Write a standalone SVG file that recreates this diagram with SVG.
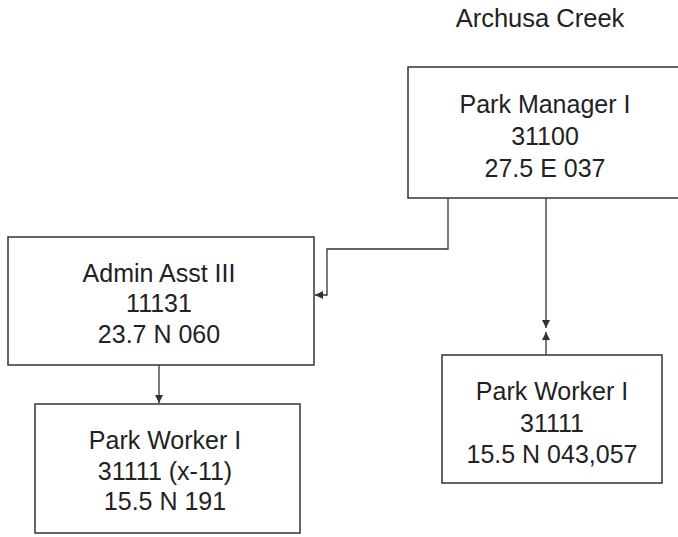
<svg xmlns="http://www.w3.org/2000/svg" width="678" height="537" viewBox="0 0 678 537">
<style>
.box{fill:#fff;stroke:#333;stroke-width:1.5}
.t{font-family:"Liberation Sans",Arial,sans-serif;font-size:25px;fill:#222;text-anchor:middle}
.c{fill:none;stroke:#333;stroke-width:1.3}
</style>
<defs>
<marker id="ah" viewBox="0 0 10 10" refX="10" refY="5" markerWidth="8" markerHeight="8" orient="auto" markerUnits="userSpaceOnUse">
<path d="M0,0 L10,5 L0,10 z" fill="#333"/>
</marker>
</defs>
<rect width="678" height="537" fill="#fff"/>
<text class="t" x="540" y="27" style="font-size:25.5px">Archusa Creek</text>
<g id="connectors">
<path class="c" d="M448,198 V249 H327 V295 H315" marker-end="url(#ah)"/>
<path class="c" d="M546,198 V328" marker-end="url(#ah)"/>
<path class="c" d="M546,355 V332" marker-end="url(#ah)"/>
<path class="c" d="M159,365 V403" marker-end="url(#ah)"/>
</g>
<g id="park-manager">
<rect class="box" x="408" y="67" width="272" height="131"/>
<text class="t" x="545" y="113">Park Manager I</text>
<text class="t" x="545" y="145">31100</text>
<text class="t" x="545" y="177">27.5 E 037</text>
</g>
<g id="admin-asst">
<rect class="box" x="8" y="237" width="306" height="128"/>
<text class="t" x="159" y="282">Admin Asst III</text>
<text class="t" x="159" y="312">11131</text>
<text class="t" x="159" y="343">23.7 N 060</text>
</g>
<g id="park-worker-left">
<rect class="box" x="35" y="404" width="265" height="129"/>
<text class="t" x="165" y="449">Park Worker I</text>
<text class="t" x="165" y="480">31111 (x-11)</text>
<text class="t" x="165" y="510">15.5 N 191</text>
</g>
<g id="park-worker-right">
<rect class="box" x="442" y="355" width="220" height="128"/>
<text class="t" x="552" y="400">Park Worker I</text>
<text class="t" x="552" y="432">31111</text>
<text class="t" x="552" y="463">15.5 N 043,057</text>
</g>
</svg>
